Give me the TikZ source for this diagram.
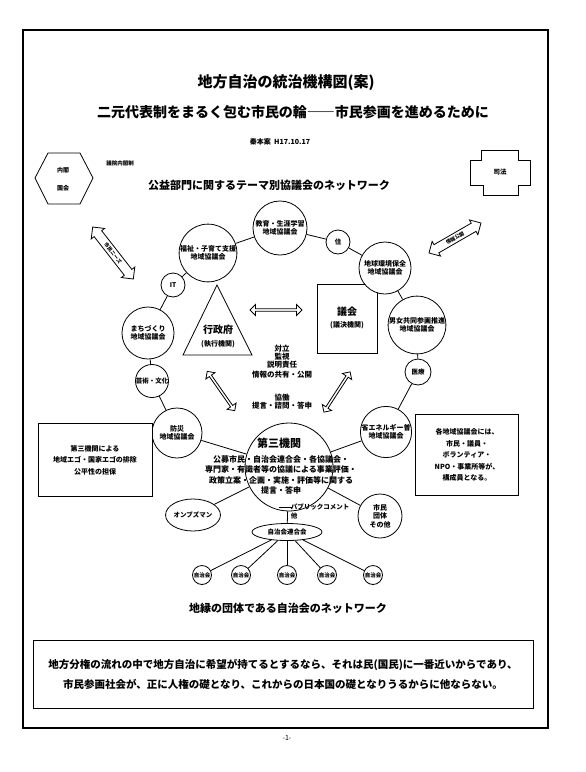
\documentclass[tikz,border=0pt]{standalone}
\usepackage{fontspec}
\setmainfont{Noto Sans CJK JP}
\usetikzlibrary{shapes.geometric, shapes.arrows, positioning}

\begin{document}
\begin{tikzpicture}[x=1pt, y=-1pt, thick,
    council/.style={circle, draw, fill=white, inner sep=0pt, align=center, font=\fontsize{7}{8.5}\selectfont\bfseries},
    topic/.style={circle, draw, fill=white, inner sep=0pt, minimum size=24pt, font=\fontsize{6.5}{7}\selectfont\bfseries},
    jichikai/.style={circle, draw, fill=white, inner sep=0pt, minimum size=19pt, font=\fontsize{5.5}{6}\selectfont\bfseries},
    notebox/.style={rectangle, draw, fill=white, inner sep=0pt, align=center},
    twoway/.style={double arrow, draw, thick, fill=white, inner sep=1pt, double arrow head extend=3pt},
    note/.style={align=center, font=\fontsize{7.5}{10}\selectfont\bfseries},
    head/.style={font=\fontsize{11}{13}\selectfont\bfseries}]
  \useasboundingbox (0,0) rectangle (586,772);
  % page frame
  \draw[line width=1.2pt] (23,30) rectangle (548,728);

  % titles
  \node[font=\fontsize{15}{17}\selectfont\bfseries] (title) at (286,83) {地方自治の統治機構図(案)};
  \node[font=\fontsize{14}{16}\selectfont\bfseries] (subtitle) at (293,112) {二元代表制をまるく包む市民の輪――市民参画を進めるために};
  \node[font=\fontsize{7}{8}\selectfont\bfseries] (date) at (280,142) {秦本案\ \ H17.10.17};

  % national level
  \draw (35,178) -- (48,153) -- (80,153) -- (93,178) -- (80,204) -- (48,204) -- cycle;
  \node[font=\fontsize{6}{7}\selectfont\bfseries] (cabinet) at (63,170) {内閣};
  \node[font=\fontsize{6}{7}\selectfont\bfseries] (diet) at (63,188) {国会};
  \node[font=\fontsize{5.5}{6}\selectfont\bfseries] (system) at (120,163) {議院内閣制};
  \draw (481,150) -- (518,150) -- (518,160) -- (530,160) -- (530,185) -- (518,185)
     -- (518,195) -- (483,195) -- (483,185) -- (470,185) -- (470,160) -- (481,160) -- cycle;
  \node[font=\fontsize{6.5}{7}\selectfont\bfseries] (justice) at (500,172) {司法};

  \node[head] (themes) at (269,185) {公益部門に関するテーマ別協議会のネットワーク};

  % two-way arrows
  \node[twoway, minimum height=66pt, minimum width=17pt, rotate=-52,
        font=\fontsize{5}{5}\selectfont\bfseries] (upleft) at (113,253) {市民ニーズ};
  \node[twoway, minimum height=60pt, minimum width=17pt, rotate=30,
        font=\fontsize{5}{5}\selectfont\bfseries] (upright) at (455,238) {情報公開};
  \node[twoway, minimum height=52pt, minimum width=11pt, inner sep=0.5pt] (mid) at (276,310) {};
  \node[twoway, minimum height=48pt, minimum width=11pt, inner sep=0.5pt, rotate=-55] (lowleft) at (221,391) {};
  \node[twoway, minimum height=48pt, minimum width=11pt, inner sep=0.5pt, rotate=57] (lowright) at (337,392) {};

  % executive and assembly
  \draw (217,285) -- (252,355) -- (183,355) -- cycle;
  \node[font=\fontsize{10}{11}\selectfont\bfseries] (exec) at (218,330) {行政府};
  \node[font=\fontsize{7}{8}\selectfont\bfseries] (execsub) at (218,344) {(執行機関)};
  \draw (317,284) rectangle (377,353);
  \node[font=\fontsize{10}{11}\selectfont\bfseries] (assembly) at (347,312) {議会};
  \node[font=\fontsize{7}{8}\selectfont\bfseries] (assemblysub) at (347,325) {(議決機関)};
  \node[note] (relation) at (282,362) {対立\\[-2pt]監視\\[-2pt]説明責任\\情報の共有・公開};
  \node[note] (cooperate) at (282,402) {協働\\[-2pt]提言・諮問・答申};

  % theme councils
  \node[council, minimum size=54pt] (edu) at (280,228) {教育・生涯学習\\地域協議会};
  \node[council, minimum size=56pt] (welfare) at (208,253) {福祉・子育て支援\\地域協議会};
  \node[topic] (house) at (338,242) {住};
  \node[council, minimum size=52pt] (env) at (385,268) {地球環境保全\\地域協議会};
  \node[council, minimum size=52pt] (gender) at (417,325) {男女共同参画推進\\地域協議会};
  \node[topic, minimum size=26pt] (medical) at (418,372) {医療};
  \node[council, minimum size=48pt] (energy) at (386,432) {省エネルギー普\\地域協議会};
  \node[topic] (it) at (173,285) {IT};
  \node[council, minimum size=52pt] (town) at (148,333) {まちづくり\\地域協議会};
  \node[topic, minimum size=26pt] (arts) at (152,381) {芸術・文化};
  \node[council, minimum size=50pt] (disaster) at (177,433) {防災\\地域協議会};

  % third party body
  \node[circle, draw, fill=white, minimum size=88pt] (third) at (289,467) {};
  \node[font=\fontsize{11}{12}\selectfont\bfseries] (thirdtitle) at (279,443) {第三機関};
  \node[align=center, font=\fontsize{8}{10.5}\selectfont\bfseries] (thirdtext) at (281,475)
    {公募市民・自治会連合会・各協議会・\\専門家・有識者等の協議による事業評価・\\政策立案・企画・実施・評価等に関する\\提言・答申};
  \node[ellipse, draw, fill=white, minimum width=50pt, minimum height=32pt, inner sep=0pt,
        font=\fontsize{6.5}{7}\selectfont\bfseries] (ombuds) at (193,515) {オンブズマン};
  \node[council, minimum size=44pt] (groups) at (380,516) {市民\\団体\\その他};
  \node[font=\fontsize{6.5}{7}\selectfont\bfseries] (pubcom) at (320,507) {パブリックコメント};
  \node[font=\fontsize{6.5}{7}\selectfont\bfseries] (other) at (294,516) {他};

  % ring of councils
  \draw (welfare) -- (edu);
  \draw (edu) -- (house);
  \draw (house) -- (env);
  \draw (env) -- (gender);
  \draw (gender) -- (medical);
  \draw (medical) -- (energy);
  \draw (energy) -- (third);
  \draw (third) -- (groups);
  \draw (third) -- (ombuds);
  \draw (third) -- (disaster);
  \draw (disaster) -- (arts);
  \draw (arts) -- (town);
  \draw (town) -- (it);
  \draw (it) -- (welfare);

  % neighbourhood associations
  \node[ellipse, draw, fill=white, minimum width=70pt, minimum height=17pt, inner sep=0pt,
        font=\fontsize{6.5}{7}\selectfont\bfseries] (union) at (287,532) {自治会連合会};
  \draw (third) -- (union);
  \draw (279,507) -- (292,507);
  \foreach \x [count=\i] in {202,241,287,327,373}
    \node[jichikai] (assoc\i) at (\x,575) {自治会};
  \foreach \i in {1,...,5}
    \draw (union) -- (assoc\i);
  \node[head] (neighbour) at (288,608) {地縁の団体である自治会のネットワーク};

  % remarks
  \node[notebox, minimum width=114pt, minimum height=73pt, font=\fontsize{7}{11.5}\selectfont\bfseries]
    (fair) at (95,460) {第三機関による\\地域エゴ・国家エゴの排除\\公平性の担保};
  \node[notebox, minimum width=103pt, minimum height=81pt, font=\fontsize{7}{11.5}\selectfont\bfseries]
    (members) at (467,455) {各地域協議会には、\\市民・議員・\\ボランティア・\\NPO・事業所等が、\\構成員となる。};
  \node[notebox, minimum width=500pt, minimum height=68pt, font=\fontsize{10.5}{20}\selectfont\bfseries]
    (message) at (283,674) {地方分権の流れの中で地方自治に希望が持てるとするなら、それは民(国民)に一番近いからであり、\\市民参画社会が、正に人権の礎となり、これからの日本国の礎となりうるからに他ならない。};
  \node[font=\fontsize{7}{8}\selectfont] (page) at (287,738) {-1-};
\end{tikzpicture}
\end{document}
